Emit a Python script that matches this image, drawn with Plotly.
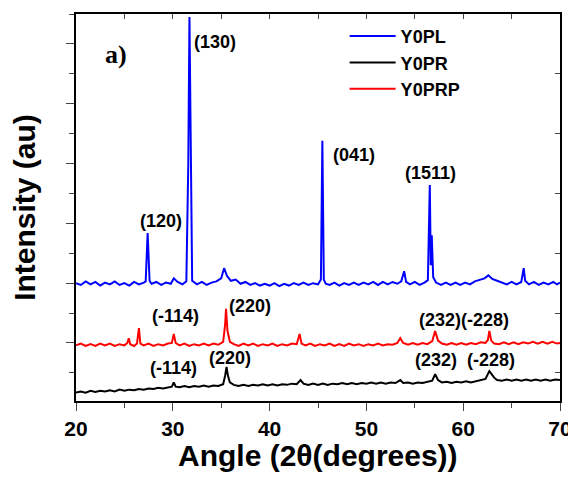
import plotly.graph_objects as go

# ---------------- data ----------------
series_names = ["Y0PL", "Y0PR", "Y0PRP"]
series_colors = ["#0000FF", "#000000", "#FF0000"]

y0pl_x = [20.0, 20.5, 21.0, 21.5, 22.0, 22.5, 23.0, 23.5, 24.0, 24.5, 25.0, 25.5, 26.0, 26.5, 27.0, 27.2, 27.4, 27.6,
          27.8, 28.3, 28.8, 29.3, 29.8, 30.1, 30.5, 31.0, 31.4, 31.6, 31.72, 31.85, 32.0, 32.5, 33.0, 33.5, 34.0,
          34.5, 35.0, 35.3, 35.6, 36.0, 36.5, 37.0, 37.5, 38.0, 38.5, 39.0, 39.5, 40.0, 40.5, 41.0, 41.5, 42.0,
          42.5, 43.0, 43.5, 44.0, 44.5, 45.0, 45.3, 45.45, 45.6, 45.8, 46.2, 46.7, 47.2, 47.7, 48.2, 48.7, 49.2,
          49.7, 50.2, 50.7, 51.2, 51.7, 52.2, 52.7, 53.2, 53.6, 53.9, 54.1, 54.5, 55.0, 55.5, 56.0, 56.35, 56.55,
          56.65, 56.75, 56.9, 57.2, 57.7, 58.2, 58.7, 59.2, 59.7, 60.2, 60.7, 61.2, 61.7, 62.2, 62.6, 63.0, 63.5,
          64.0, 64.5, 65.0, 65.5, 66.0, 66.25, 66.4, 66.8, 67.3, 67.8, 68.3, 68.8, 69.3, 69.7, 70.0]
y0pl_y = [2.00, 1.97, 2.03, 1.98, 2.02, 1.96, 2.01, 1.98, 2.03, 1.97, 2.00, 1.96, 2.02, 1.98, 2.01, 2.03, 2.84, 2.04,
          1.99, 2.02, 1.97, 2.01, 1.99, 2.08, 2.02, 1.98, 2.03, 4.00, 6.45, 4.00, 2.04, 1.98, 2.02, 1.97, 2.01,
          2.03, 2.08, 2.25, 2.12, 2.04, 2.06, 1.99, 2.02, 1.97, 2.00, 1.96, 1.99, 1.96, 2.00, 1.95, 1.99, 1.96,
          2.00, 1.97, 2.01, 1.97, 2.00, 1.98, 2.06, 4.38, 2.06, 1.99, 1.97, 2.01, 1.96, 2.00, 1.97, 2.01, 1.97,
          2.01, 1.98, 2.02, 1.97, 2.02, 1.98, 2.02, 1.99, 2.03, 2.20, 2.02, 1.98, 2.02, 1.97, 2.01, 2.05, 3.64,
          2.30, 2.80, 2.10, 2.01, 1.97, 2.01, 1.97, 2.01, 1.97, 2.01, 1.98, 2.03, 2.05, 2.08, 2.13, 2.07, 2.04,
          2.01, 1.98, 2.02, 1.98, 2.02, 2.25, 2.04, 1.98, 2.02, 1.97, 2.01, 1.98, 2.02, 1.98, 2.01]

y0pr_x = [20.0, 20.5, 21.0, 21.5, 22.0, 22.5, 23.0, 23.5, 24.0, 24.5, 25.0, 25.5, 26.0, 26.5, 27.0, 27.5, 28.0, 28.5,
          29.0, 29.5, 29.9, 30.1, 30.3, 30.7, 31.2, 31.7, 32.2, 32.7, 33.2, 33.7, 34.2, 34.7, 35.2, 35.4, 35.55,
          35.7, 35.9, 36.3, 36.8, 37.3, 37.8, 38.3, 38.8, 39.3, 39.8, 40.3, 40.8, 41.3, 41.8, 42.3, 42.8, 43.2,
          43.5, 44.0, 44.5, 45.0, 45.5, 46.0, 46.5, 47.0, 47.5, 48.0, 48.5, 49.0, 49.5, 50.0, 50.5, 51.0, 51.5,
          52.0, 52.5, 53.0, 53.5, 53.8, 54.3, 54.8, 55.3, 55.8, 56.3, 56.8, 57.1, 57.4, 57.8, 58.3, 58.8, 59.3,
          59.8, 60.3, 60.8, 61.3, 61.8, 62.3, 62.7, 62.9, 63.2, 63.5, 64.0, 64.5, 65.0, 65.5, 66.0, 66.5, 67.0,
          67.5, 68.0, 68.5, 69.0, 69.5, 70.0]
y0pr_y = [0.17, 0.19, 0.17, 0.20, 0.18, 0.20, 0.19, 0.21, 0.19, 0.22, 0.20, 0.22, 0.21, 0.23, 0.22, 0.24, 0.23, 0.25,
          0.24, 0.26, 0.27, 0.34, 0.27, 0.26, 0.28, 0.26, 0.28, 0.27, 0.29, 0.27, 0.29, 0.28, 0.31, 0.45, 0.60,
          0.45, 0.34, 0.30, 0.28, 0.30, 0.28, 0.30, 0.29, 0.31, 0.29, 0.31, 0.29, 0.31, 0.30, 0.32, 0.31, 0.38,
          0.32, 0.30, 0.32, 0.30, 0.32, 0.30, 0.32, 0.31, 0.33, 0.31, 0.33, 0.31, 0.33, 0.32, 0.34, 0.32, 0.34,
          0.32, 0.34, 0.33, 0.38, 0.33, 0.34, 0.32, 0.34, 0.33, 0.35, 0.37, 0.48, 0.38, 0.34, 0.35, 0.33, 0.35,
          0.34, 0.36, 0.34, 0.36, 0.37, 0.40, 0.53, 0.48, 0.42, 0.38, 0.37, 0.39, 0.37, 0.39, 0.37, 0.39, 0.37,
          0.39, 0.37, 0.39, 0.37, 0.39, 0.38]

y0prp_x = [20.0, 20.5, 21.0, 21.5, 22.0, 22.5, 23.0, 23.5, 24.0, 24.5, 25.0, 25.3, 25.45, 25.6, 26.0, 26.3, 26.5,
           26.65, 27.0, 27.5, 28.0, 28.5, 29.0, 29.5, 29.9, 30.1, 30.3, 30.7, 31.2, 31.7, 32.2, 32.7, 33.2, 33.7,
           34.2, 34.7, 35.2, 35.4, 35.5, 35.65, 35.9, 36.3, 36.8, 37.3, 37.8, 38.3, 38.8, 39.3, 39.8, 40.3, 40.8,
           41.3, 41.8, 42.3, 42.8, 43.1, 43.3, 43.7, 44.2, 44.7, 45.2, 45.7, 46.2, 46.7, 47.2, 47.7, 48.2, 48.7,
           49.2, 49.7, 50.2, 50.7, 51.2, 51.7, 52.2, 52.7, 53.2, 53.5, 53.8, 54.3, 54.8, 55.3, 55.8, 56.3, 56.8,
           57.1, 57.4, 57.8, 58.3, 58.8, 59.3, 59.8, 60.3, 60.8, 61.3, 61.8, 62.3, 62.55, 62.7, 62.9, 63.2, 63.7,
           64.2, 64.7, 65.2, 65.7, 66.2, 66.7, 67.2, 67.7, 68.2, 68.7, 69.2, 69.7, 70.0]
y0prp_y = [0.96, 0.99, 0.95, 0.98, 0.95, 0.99, 0.96, 0.99, 0.95, 0.98, 0.96, 1.00, 1.08, 0.98, 0.95, 0.99, 1.25,
           0.99, 0.96, 0.99, 0.95, 0.98, 0.96, 0.99, 1.00, 1.15, 1.00, 0.96, 0.99, 0.95, 0.98, 0.96, 0.99, 0.96,
           0.99, 0.97, 1.02, 1.30, 1.57, 1.20, 1.02, 0.98, 0.95, 0.99, 0.96, 0.99, 0.95, 0.98, 0.96, 0.99, 0.95,
           0.98, 0.96, 0.99, 0.98, 1.15, 0.99, 0.96, 0.99, 0.95, 0.98, 0.96, 0.99, 0.95, 0.98, 0.95, 0.99, 0.96,
           0.98, 0.95, 0.98, 0.96, 0.99, 0.96, 0.98, 0.97, 1.00, 1.08, 1.00, 0.97, 1.00, 0.97, 1.00, 0.98, 1.03,
           1.20, 1.04, 0.99, 0.97, 1.00, 0.97, 1.00, 0.97, 1.00, 0.98, 1.01, 1.00, 1.05, 1.20, 1.04, 0.99, 0.98,
           1.01, 0.98, 1.01, 0.98, 1.01, 0.99, 1.02, 0.99, 1.02, 0.99, 1.02, 0.99, 1.00]

# peak labels (text, x in degrees, y in intensity units)
label_texts = ["(130)", "(120)", "(041)", "(1511)", "(-114)", "(220)", "(232)(-228)", "(-114)", "(220)", "(232)", "(-228)"]
label_x = [34.36, 28.78, 48.72, 56.67, 30.23, 37.98, 60.08, 30.12, 35.91, 57.19, 62.87]
label_y = [6.03, 3.04, 4.14, 3.84, 1.45, 1.62, 1.38, 0.58, 0.75, 0.72, 0.72]

x_ticks = [20, 30, 40, 50, 60, 70]

# ---------------- figure ----------------
fig = go.Figure()
for name, color, xs, ys in zip(series_names, series_colors,
                               [y0pl_x, y0pr_x, y0prp_x], [y0pl_y, y0pr_y, y0prp_y]):
    fig.add_trace(go.Scatter(x=xs, y=ys, mode="lines", name=name,
                             line=dict(color=color, width=2)))

# helper (invisible) trace so the mirrored top/right axes are drawn
fig.add_trace(go.Scatter(x=[None], y=[None], xaxis="x2", yaxis="y2",
                         showlegend=False, hoverinfo="skip"))

font_b = dict(family="Arial, Liberation Sans", color="black", weight="bold")

annots = [dict(x=tx, y=ty, text=t, showarrow=False, xref="x", yref="y",
               font=dict(size=18, **font_b))
          for t, tx, ty in zip(label_texts, label_x, label_y)]
annots.append(dict(x=24.13, y=5.83, text="a)", showarrow=False, xref="x", yref="y",
                   font=dict(family="Times New Roman, Liberation Serif", size=26, color="black", weight="bold")))
# x-axis title
annots.append(dict(x=0.5, y=-0.141, xref="paper", yref="paper", xanchor="center", yanchor="middle",
                   text="Angle (2θ(degrees))", showarrow=False, font=dict(size=30, **font_b)))

fig.update_layout(
    width=568, height=468,
    margin=dict(l=68, r=16, t=6, b=75, autoexpand=False),
    paper_bgcolor="white", plot_bgcolor="white",
    showlegend=True,
    legend=dict(x=0.555, y=0.99, xanchor="left", yanchor="top",
                bgcolor="rgba(0,0,0,0)", borderwidth=0,
                font=dict(size=18, **font_b), itemwidth=46, tracegroupgap=0),
    annotations=annots,
    xaxis=dict(range=[20, 70], tickvals=x_ticks, ticks="outside", ticklen=8, tickwidth=1.2,
               minor=dict(ticks="outside", ticklen=5, tickwidth=1.2, dtick=5, tick0=20),
               showline=True, linecolor="black", linewidth=1.5, mirror=True,
               showgrid=False, zeroline=False,
               tickfont=dict(size=21, **font_b)),
    yaxis=dict(range=[0.03, 6.5], dtick=1, tick0=0, ticks="outside", ticklen=8, tickwidth=1.2,
               minor=dict(ticks="outside", ticklen=5, tickwidth=1.2, dtick=0.5, tick0=0),
               showticklabels=False,
               showline=True, linecolor="black", linewidth=1.5, mirror=True,
               showgrid=False, zeroline=False,
               title=dict(text="Intensity (au)", font=dict(size=30, **font_b), standoff=22)),
    xaxis2=dict(range=[20, 70], overlaying="x", side="top", anchor="y2",
                tickvals=[25, 30, 35, 40, 45, 50, 55, 60, 65], ticks="inside", ticklen=5, tickwidth=1.2,
                showticklabels=False, showgrid=False, zeroline=False, showline=False),
    yaxis2=dict(range=[0.03, 6.5], overlaying="y", side="right", anchor="x2",
                tickvals=[0.5, 1.5, 2.5, 3.5, 4.5, 5.5], ticks="inside", ticklen=5, tickwidth=1.2,
                showticklabels=False, showgrid=False, zeroline=False, showline=False),
)

fig.write_html("out.html")
